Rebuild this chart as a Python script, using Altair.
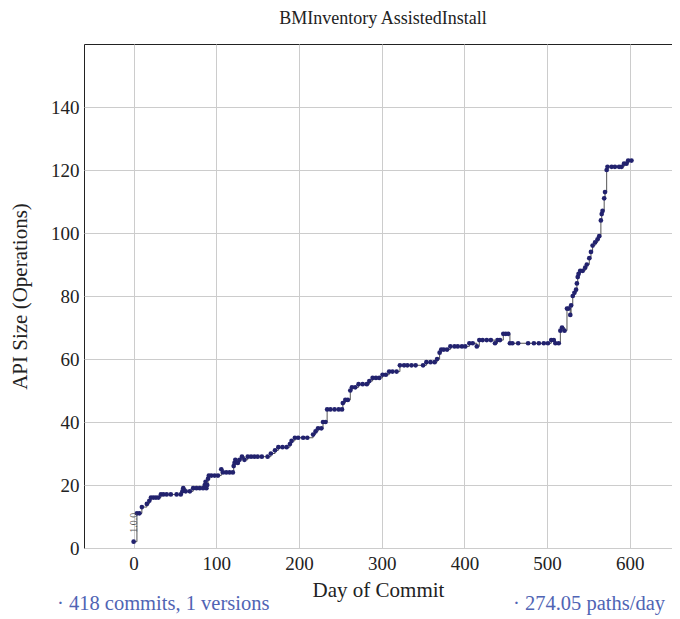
import altair as alt
import pandas as pd

days = [0, 4, 7, 10, 16, 19, 21, 24, 27, 30, 33, 36, 40, 45, 52, 57, 59, 60, 63, 68,
        72, 76, 80, 84, 86, 87, 88, 89, 90, 91, 94, 98, 102, 106, 108, 112, 116, 120, 121, 122,
        123, 126, 128, 131, 134, 138, 142, 146, 150, 155, 162, 166, 171, 175, 180, 185, 189, 191, 195, 199,
        205, 210, 217, 220, 223, 227, 229, 232, 234, 238, 243, 248, 252, 253, 256, 259, 262, 264, 268, 272,
        277, 282, 285, 289, 293, 297, 301, 305, 309, 313, 318, 322, 327, 331, 336, 341, 350, 354, 359, 364,
        367, 370, 372, 375, 379, 383, 388, 392, 397, 401, 406, 410, 415, 418, 422, 427, 432, 437, 440, 443,
        447, 450, 453, 455, 458, 465, 477, 484, 490, 496, 501, 505, 508, 510, 514, 516, 518, 521, 524, 526,
        528, 529, 531, 533, 535, 536, 537, 538, 540, 543, 546, 548, 551, 553, 555, 558, 561, 563, 565, 566,
        567, 569, 570, 572, 573, 578, 582, 587, 590, 593, 596, 598, 602]
sizes = [2, 11, 11, 13, 14, 15, 16, 16, 16, 16, 17, 17, 17, 17, 17, 17, 18, 19, 18, 18,
         19, 19, 19, 19, 20, 21, 19, 20, 22, 23, 23, 23, 23, 25, 24, 24, 24, 24, 26, 27,
         28, 27, 28, 29, 28, 29, 29, 29, 29, 29, 29, 30, 31, 32, 32, 32, 33, 34, 35, 35,
         35, 35, 36, 37, 38, 38, 40, 40, 44, 44, 44, 44, 44, 46, 47, 47, 50, 51, 51, 52,
         52, 52, 53, 54, 54, 54, 55, 55, 56, 56, 56, 58, 58, 58, 58, 58, 58, 59, 59, 59,
         60, 62, 63, 63, 63, 64, 64, 64, 64, 64, 65, 65, 64, 66, 66, 66, 66, 65, 66, 66,
         68, 68, 68, 65, 65, 65, 65, 65, 65, 65, 65, 66, 66, 65, 65, 69, 70, 69, 76, 76,
         74, 77, 80, 81, 82, 84, 86, 87, 88, 88, 89, 90, 92, 94, 96, 97, 98, 99, 104, 106,
         107, 111, 113, 120, 121, 121, 121, 121, 121, 122, 122, 123, 123]

version_labels = ["1.0.0"]
version_days = [0]
version_mid = [8]

x_ticks = [0, 100, 200, 300, 400, 500, 600]
y_ticks = [0, 20, 40, 60, 80, 100, 120, 140]

n_commits = 418
n_versions = 1
paths_per_day = 274.05

FONT = "Liberation Serif, DejaVu Serif, serif"

df = pd.DataFrame({"day": days, "size": sizes})
vdf = pd.DataFrame({"day": version_days, "y": version_mid, "label": version_labels})
foot = pd.DataFrame({"t": [f"· {n_commits} commits, {n_versions} versions"]})
foot2 = pd.DataFrame({"t": [f"· {paths_per_day:.2f} paths/day"]})

xs = alt.Scale(domain=[-60, 651], nice=False, zero=False)
ys = alt.Scale(domain=[0, 160], nice=False)

xenc = alt.X("day:Q", scale=xs, axis=alt.Axis(values=x_ticks, title="Day of Commit", grid=True,
                                             ticks=False, domain=False, labelPadding=6, titlePadding=6))
yenc = alt.Y("size:Q", scale=ys, axis=alt.Axis(values=y_ticks, title="API Size (Operations)", grid=True,
                                              ticks=False, domain=False, labelPadding=5, titlePadding=20))

line = alt.Chart(df).mark_line(interpolate="step-after", color="#555555", strokeWidth=1).encode(x=xenc, y=yenc)
pts = alt.Chart(df).mark_circle(size=22, color="#22226e", opacity=1).encode(x="day:Q", y="size:Q")
ver = alt.Chart(vdf).mark_text(angle=270, fontSize=10, color="#555555", font=FONT,
                               align="center", baseline="middle").encode(
    x="day:Q", y=alt.Y("y:Q"), text="label:N")
f1 = alt.Chart(foot).mark_text(align="left", baseline="middle", fontSize=20.5, color="#5064b4",
                               font=FONT).encode(x=alt.value(-27), y=alt.value(560), text="t:N")
f2 = alt.Chart(foot2).mark_text(align="right", baseline="middle", fontSize=20.5, color="#5064b4",
                                font=FONT).encode(x=alt.value(581), y=alt.value(560), text="t:N")

chart = alt.layer(line, pts, ver, f1, f2).properties(
    width=588, height=504,
    title=alt.TitleParams("BMInventory AssistedInstall", fontSize=18, font=FONT, fontWeight="normal",
                          color="#222222", offset=16, anchor="middle", dx=5),
    autosize=alt.AutoSizeParams(type="none"),
    padding={"left": 76, "top": 36, "right": 0, "bottom": 70},
).configure_view(stroke="#222222", strokeWidth=1).configure_axis(
    labelFont=FONT, titleFont=FONT, labelFontSize=19, titleFontSize=21, labelColor="#222222",
    titleColor="#222222", titleFontWeight="normal", gridColor="#cccccc", gridWidth=1
).configure_title(font=FONT, fontWeight="normal")

chart.save("out.html", embed_options={"renderer": "svg", "actions": False})
